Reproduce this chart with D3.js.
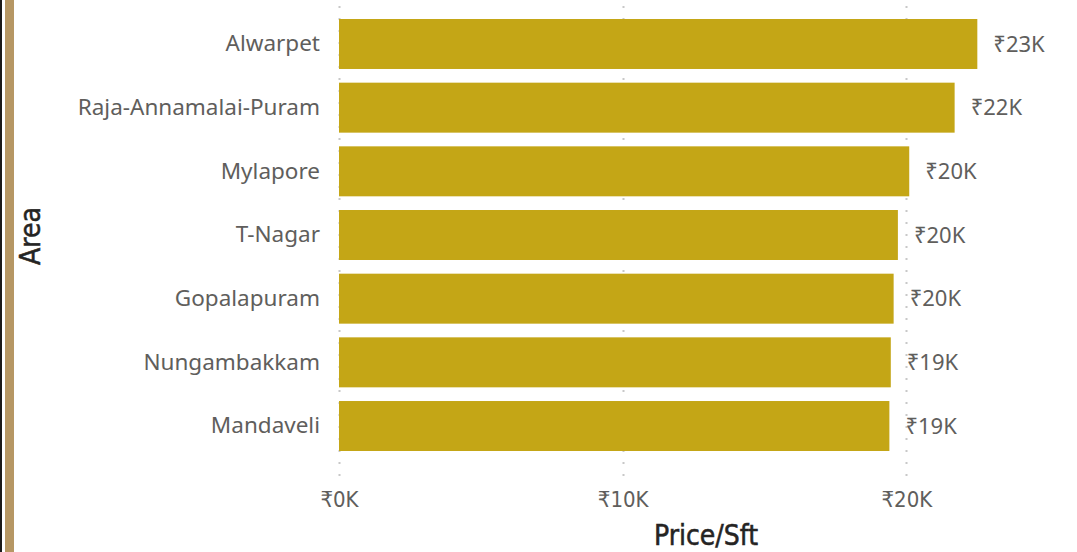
<!DOCTYPE html>
<html><head><meta charset="utf-8">
<script src="https://cdn.jsdelivr.net/npm/d3@7"></script>
<style>
html,body{margin:0;padding:0;background:#fff;}
svg{display:block;}
</style></head>
<body>
<svg id="chart" width="1077" height="552"></svg>
<script>
const categories = ["Alwarpet","Raja-Annamalai-Puram","Mylapore","T-Nagar","Gopalapuram","Nungambakkam","Mandaveli"];
const values = [22500, 21700, 20100, 19700, 19550, 19450, 19400];
const tickValues = [0, 10000, 20000];
const tickLabels = ["₹0K","₹10K","₹20K"];
const xTitle = "Price/Sft";
const yTitle = "Area";

const svg = d3.select("#chart");
const W = 1077, H = 552;

// left border decoration
svg.append("rect").attr("x",0).attr("y",0).attr("width",2).attr("height",H).attr("fill","#1a1a1a");
svg.append("rect").attr("x",5).attr("y",0).attr("width",9).attr("height",H).attr("fill","#b69764");

const x = d3.scaleLinear().domain([0, 25000]).range([339, 339 + 25 * 28.37]);
const y = d3.scaleBand().domain(categories).range([19, 451]).paddingInner(0.215).paddingOuter(0);

// gridlines
svg.append("g").selectAll("line").data(tickValues).join("line")
  .attr("x1", d => Math.round(x(d)) + 0.5).attr("x2", d => Math.round(x(d)) + 0.5)
  .attr("y1", 6).attr("y2", 478)
  .attr("stroke", "#c8c8c8").attr("stroke-width", 2)
  .attr("stroke-dasharray", "2,10");

// bars
svg.append("g").selectAll("rect").data(categories).join("rect")
  .attr("x", x(0))
  .attr("y", d => y(d))
  .attr("width", (d,i) => x(values[i]) - x(0))
  .attr("height", y.bandwidth())
  .attr("fill", "#c4a616");

// data labels
const fmt = v => "₹" + Math.round(v/1000) + "K";
svg.append("g").selectAll("text").data(categories).join("text")
  .attr("x", (d,i) => x(values[i]) + 16)
  .attr("y", d => y(d) + y.bandwidth()/2)
  .attr("dy", "0.35em")
  .attr("font-family", "'Noto Sans', 'DejaVu Sans', sans-serif")
  .attr("font-size", 22)
  .attr("fill", "#605e5c")
  .text((d,i) => fmt(values[i]));

// y axis labels
const yAxis = d3.axisLeft(y).tickSize(0).tickPadding(0);
const gy = svg.append("g").attr("transform", "translate(320,0)").call(yAxis);
gy.select(".domain").remove();
gy.selectAll("text")
  .attr("font-family", "'Noto Sans', 'Open Sans', sans-serif")
  .attr("font-size", 22.5)
  .attr("fill", "#605e5c");

// x axis labels
const xAxis = d3.axisBottom(x).tickValues(tickValues).tickFormat((d,i) => tickLabels[i]).tickSize(0).tickPadding(0);
const gx = svg.append("g").attr("transform", "translate(0,0)").call(xAxis);
gx.select(".domain").remove();
gx.selectAll("text")
  .attr("y", 507).attr("dy", 0)
  .attr("font-family", "'DejaVu Sans Condensed', 'DejaVu Sans', sans-serif")
  .attr("font-size", 22)
  .attr("fill", "#605e5c");

// axis titles
svg.append("text")
  .attr("x", 706).attr("y", 545)
  .attr("text-anchor", "middle")
  .attr("font-family", "'DejaVu Sans Condensed', 'DejaVu Sans', sans-serif")
  .attr("font-size", 28)
  .attr("fill", "#252423")
  .attr("stroke", "#252423").attr("stroke-width", 0.5)
  .text(xTitle);

svg.append("text")
  .attr("transform", "translate(40,236) rotate(-90)")
  .attr("text-anchor", "middle")
  .attr("font-family", "'DejaVu Sans Condensed', 'DejaVu Sans', sans-serif")
  .attr("font-size", 28)
  .attr("fill", "#252423")
  .attr("stroke", "#252423").attr("stroke-width", 0.5)
  .text(yTitle);
</script>
</body></html>
